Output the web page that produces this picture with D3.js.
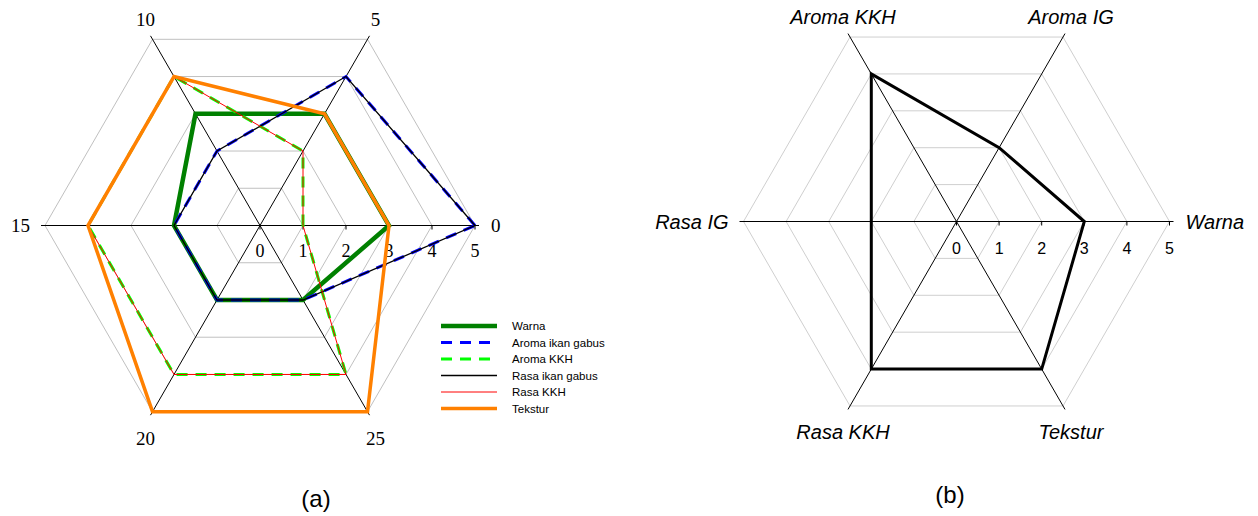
<!DOCTYPE html>
<html>
<head>
<meta charset="utf-8">
<script src="https://cdn.jsdelivr.net/npm/d3@7"></script>
<style>
  html, body { margin: 0; padding: 0; background: #fff; }
  svg { display: block; }
</style>
</head>
<body>
<svg id="chart" width="1258" height="516"></svg>
<script>
// ---- data: panel (a) ----
const categoriesA = ["0", "5", "10", "15", "20", "25"];
const warna          = [3, 3, 3, 2, 2, 2];
const aromaIkanGabus = [5, 4, 2, 2, 2, 2];
const aromaKKH       = [1, 2, 4, 4, 4, 4];
const rasaIkanGabus  = [5, 4, 2, 2, 2, 2];
const rasaKKH        = [1, 2, 4, 4, 4, 4];
const tekstur        = [3, 3, 4, 4, 5, 5];
const seriesNamesA = ["Warna", "Aroma ikan gabus", "Aroma KKH", "Rasa ikan gabus", "Rasa KKH", "Tekstur"];

// ---- data: panel (b) ----
const categoriesB = ["Warna", "Aroma IG", "Aroma KKH", "Rasa IG", "Rasa KKH", "Tekstur"];
const scoresB     = [3, 2, 4, 2, 4, 4];

// ---- shared value axis ----
const tickValues = [0, 1, 2, 3, 4, 5];
const maxValue = 5;

const seriesA = [
  { name: seriesNamesA[0], values: warna,          color: "#008000", width: 4.5, dash: null },
  { name: seriesNamesA[1], values: aromaIkanGabus, color: "#0000FF", width: 3,   dash: "11,8" },
  { name: seriesNamesA[2], values: aromaKKH,       color: "#00FF00", width: 3,   dash: "11,8" },
  { name: seriesNamesA[3], values: rasaIkanGabus,  color: "#000000", width: 1.3, dash: null },
  { name: seriesNamesA[4], values: rasaKKH,        color: "#FF0000", width: 1,   dash: null },
  { name: seriesNamesA[5], values: tekstur,        color: "#FF8000", width: 3.5, dash: null }
];

const svg = d3.select("#chart");

// angle (clockwise from north) for category i, first category pointing east, going counter-clockwise
const angleOf = (i, n) => Math.PI / 2 - i * 2 * Math.PI / n;

function drawRadar(g, opts) {
  const { categories, R, labelFont, labelSize, labelStyle, tickFont, tickSize, tickBaseline, gridColor } = opts;
  const n = categories.length;
  const r = d3.scaleLinear().domain([0, maxValue]).range([0, R]);

  // hexagonal grid rings
  const ring = d3.lineRadial()
    .angle((d, i) => angleOf(i, n))
    .radius(d => r(d))
    .curve(d3.curveLinearClosed);
  g.append("g").selectAll("path")
    .data(tickValues.filter(v => v > 0))
    .join("path")
    .attr("d", v => ring(categories.map(() => v)))
    .attr("fill", "none")
    .attr("stroke", gridColor)
    .attr("stroke-width", 1);

  // spokes
  g.append("g").selectAll("line")
    .data(categories)
    .join("line")
    .attr("x1", 0).attr("y1", 0)
    .attr("x2", (d, i) => (R + 4) * Math.sin(angleOf(i, n)))
    .attr("y2", (d, i) => -(R + 4) * Math.cos(angleOf(i, n)))
    .attr("stroke", opts.spokeColor)
    .attr("stroke-width", 1);

  // tick marks along the first (east) spoke
  g.append("g").selectAll("line")
    .data(tickValues)
    .join("line")
    .attr("x1", v => r(v)).attr("x2", v => r(v))
    .attr("y1", 0).attr("y2", 4)
    .attr("stroke", opts.spokeColor)
    .attr("stroke-width", 1);

  // value labels under the east spoke
  g.append("g").selectAll("text")
    .data(tickValues)
    .join("text")
    .attr("x", v => r(v))
    .attr("y", tickBaseline)
    .attr("text-anchor", "middle")
    .style("font-family", tickFont)
    .style("font-size", tickSize + "px")
    .attr("fill", "#000")
    .text(v => v);

  // category labels around the outside
  g.append("g").selectAll("text")
    .data(categories)
    .join("text")
    .each(function (d, i) {
      const a = angleOf(i, n);
      const vx = R * Math.sin(a), vy = -R * Math.cos(a);
      const el = d3.select(this);
      if (Math.abs(vy) < 1) {
        el.attr("x", vx > 0 ? vx + 16 : vx - 15)
          .attr("y", 0)
          .attr("text-anchor", vx > 0 ? "start" : "end");
      } else {
        el.attr("x", vx + (vx > 0 ? 8 : -7))
          .attr("y", vy < 0 ? vy - 20 : vy + 26.5)
          .attr("text-anchor", "middle");
      }
    })
    .attr("dy", "0.35em")
    .style("font-family", labelFont)
    .style("font-size", labelSize + "px")
    .style("font-style", labelStyle)
    .attr("fill", "#000")
    .text(d => d);

  return r;
}

// ---------- panel (a) ----------
const gA = svg.append("g").attr("transform", "translate(260,225.5)");
const rA = drawRadar(gA, {
  categories: categoriesA, R: 215,
  labelFont: "'Liberation Serif', 'Times New Roman', serif", labelSize: 19, labelStyle: "normal",
  tickFont: "'Liberation Serif', 'Times New Roman', serif", tickSize: 18, tickBaseline: 31.5,
  gridColor: "#C0C0C0", spokeColor: "#000"
});

const lineA = d3.lineRadial()
  .angle((d, i) => angleOf(i, categoriesA.length))
  .radius(d => rA(d))
  .curve(d3.curveLinearClosed);

gA.append("g").selectAll("path")
  .data(seriesA)
  .join("path")
  .attr("d", s => lineA(s.values))
  .attr("fill", "none")
  .attr("stroke", s => s.color)
  .attr("stroke-width", s => s.width)
  .attr("stroke-dasharray", s => s.dash)
  .attr("stroke-linejoin", "miter");

// legend for panel (a)
const legend = svg.append("g").attr("transform", "translate(441,326)");
const legendRows = legend.selectAll("g")
  .data(seriesA)
  .join("g")
  .attr("transform", (d, i) => `translate(0,${i * 16.5})`);
legendRows.append("line")
  .attr("x1", 0).attr("x2", 56).attr("y1", 0).attr("y2", 0)
  .attr("stroke", d => d.color)
  .attr("stroke-width", d => d.width)
  .attr("stroke-dasharray", d => d.dash);
legendRows.append("text")
  .attr("x", 71).attr("y", 4)
  .style("font-family", "'Liberation Sans', Arial, sans-serif")
  .style("font-size", "11.5px")
  .attr("fill", "#000")
  .text(d => d.name);

svg.append("text")
  .attr("x", 316).attr("y", 506.5)
  .attr("text-anchor", "middle")
  .style("font-family", "'Liberation Sans', Arial, sans-serif")
  .style("font-size", "24px")
  .text("(a)");

// ---------- panel (b) ----------
const gB = svg.append("g").attr("transform", "translate(956.5,221.5)");
const rB = drawRadar(gB, {
  categories: categoriesB, R: 213,
  labelFont: "'Liberation Sans', Arial, sans-serif", labelSize: 20, labelStyle: "italic",
  tickFont: "'Liberation Sans', Arial, sans-serif", tickSize: 16, tickBaseline: 32,
  gridColor: "#CFCFCF", spokeColor: "#000"
});

const lineB = d3.lineRadial()
  .angle((d, i) => angleOf(i, categoriesB.length))
  .radius(d => rB(d))
  .curve(d3.curveLinearClosed);

gB.append("path")
  .datum(scoresB)
  .attr("d", lineB)
  .attr("fill", "none")
  .attr("stroke", "#000")
  .attr("stroke-width", 3)
  .attr("stroke-linejoin", "miter");

svg.append("text")
  .attr("x", 950).attr("y", 503)
  .attr("text-anchor", "middle")
  .style("font-family", "'Liberation Sans', Arial, sans-serif")
  .style("font-size", "24px")
  .text("(b)");
</script>
</body>
</html>
